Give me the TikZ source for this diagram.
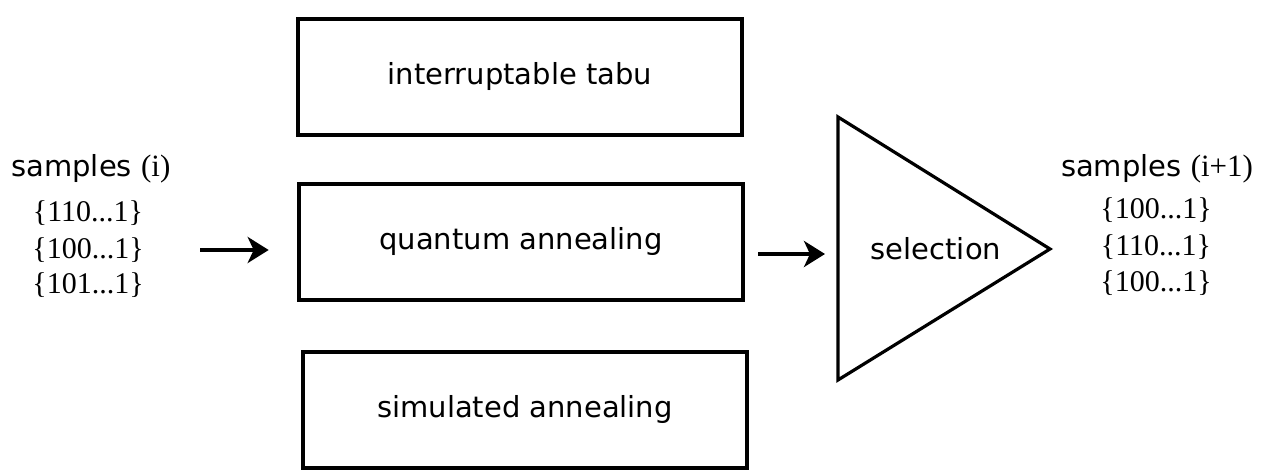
\documentclass[tikz,border=0pt]{standalone}
\usepackage{fontspec}
\setmainfont{DejaVu Sans}
\newfontfamily\serifnum{Liberation Serif}
\usetikzlibrary{arrows.meta}
\begin{document}
\begin{tikzpicture}[x=0.5pt,y=-0.5pt,
 box/.style={draw,line width=2.3pt,minimum width=222pt,minimum height=58pt,inner sep=0pt,font=\fontsize{14.5}{17}\selectfont},
 lbl/.style={font=\fontsize{14.5}{17}\selectfont,inner sep=0pt},
 smp/.style={font=\serifnum\fontsize{15}{17}\selectfont,inner sep=0pt},
 arr/.style={line width=2pt,-{Stealth[length=10.5pt,width=13pt,inset=3pt]}}]
\useasboundingbox (0,0) rectangle (1266,470);
\node[box] (tabu) at (520,77) {\raisebox{-1pt}{interruptable tabu}};
\node[box] (qa) at (521,242) {\raisebox{-2pt}{quantum annealing}};
\node[box] (sa) at (525,410) {\raisebox{-1.5pt}{simulated annealing}};
\coordinate (t1) at (838,117);
\coordinate (t2) at (838,380);
\coordinate (t3) at (1050,249);
\draw[line width=1.6pt,line join=miter] (t1) -- (t3) -- (t2) -- cycle;
\node[lbl] (sel) at (936,249) {selection};
% left samples
\node[lbl,anchor=base west] (sin) at (11,177) {samples {\serifnum\fontsize{15.5}{17}\selectfont(i)}};
\node[smp] (s1) at (88,213) {\{110...1\}};
\node[smp] (s2) at (88,250) {\{100...1\}};
\node[smp] (s3) at (88,285) {\{101...1\}};
% right samples
\node[lbl,anchor=base] (sout) at (1157,177) {samples {\serifnum\fontsize{15.5}{17}\selectfont(i+1)}};
\node[smp] (r1) at (1156,210) {\{100...1\}};
\node[smp] (r2) at (1156,247) {\{110...1\}};
\node[smp] (r3) at (1156,283) {\{100...1\}};
% arrows
\coordinate (ain) at (200,250);
\draw[arr,shorten >=14pt] (ain) -- (ain -| qa.west);
\coordinate (aout) at (760,254);
\draw[arr,shorten <=6.5pt,shorten >=6.5pt] (aout -| qa.east) -- (aout -| t1);
\end{tikzpicture}
\end{document}
